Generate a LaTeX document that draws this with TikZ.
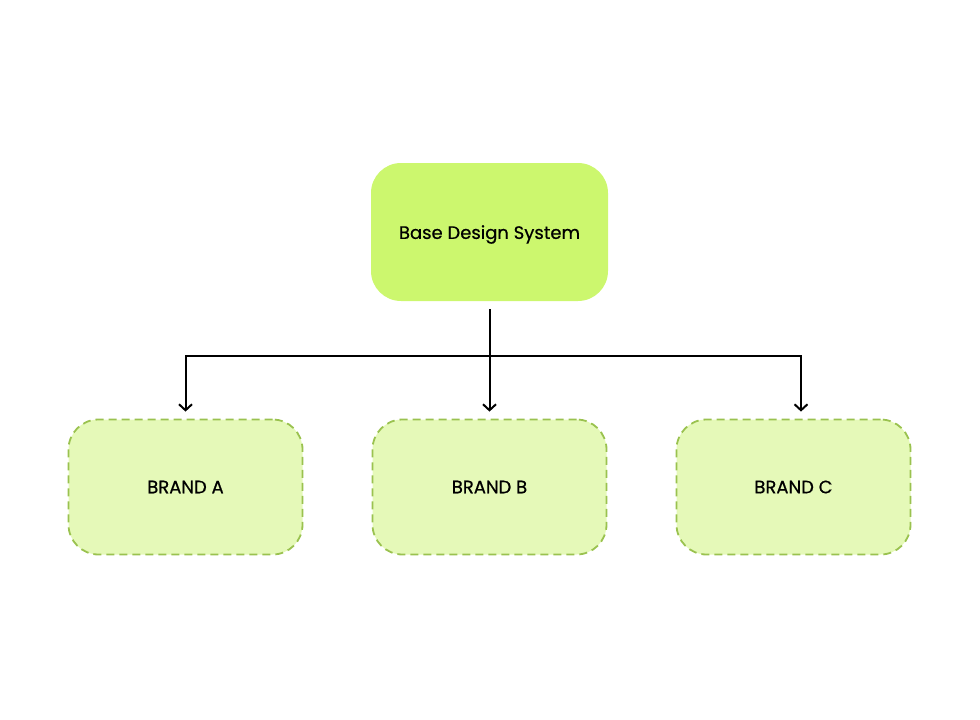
\documentclass[tikz,border=0pt]{standalone}
\usepackage{fontspec}
\setmainfont{Poppins}
\usetikzlibrary{arrows.meta}
\definecolor{topfill}{HTML}{CCF76E}
\definecolor{brandfill}{HTML}{E5F9B8}
\definecolor{brandline}{HTML}{9AC24F}
\begin{document}
\begin{tikzpicture}[x=1pt,y=-1pt,
  basebox/.style={draw=none,fill=topfill,rounded corners=30pt,minimum width=237pt,minimum height=138pt,inner sep=0pt,font=\fontsize{18}{20}\selectfont},
  brandbox/.style={draw=brandline,fill=brandfill,line width=1.8pt,dash pattern=on 8pt off 5pt,rounded corners=30pt,minimum width=234pt,minimum height=135pt,inner sep=0pt,font=\fontsize{18}{20}\selectfont},
  conn/.style={line width=2pt,draw=black},
  arr/.style={conn,-{Straight Barb[length=6pt,width=13pt,line width=2pt]}}]
\useasboundingbox (0,0) rectangle (980,720);
\node[basebox] (base) at (489.5,232) {};
\node[font=\fontsize{18}{20}\selectfont,inner sep=0pt] (basetext) at (489.5,234.5) {\addfontfeature{FakeBold=0.6}Base Design System};
\node[brandbox] (a) at (185.5,487) {\addfontfeature{FakeBold=0.6}BRAND A};
\node[brandbox] (b) at (489.5,487) {\addfontfeature{FakeBold=0.6}BRAND B};
\node[brandbox] (c) at (793.5,487) {\addfontfeature{FakeBold=0.6}BRAND C};
\coordinate (split) at (489.5,356);
\draw[conn] ([yshift=-8pt]base.south) -- (split);
\draw[arr] (split) -| ([yshift=7pt]a.north);
\draw[arr] (split) -- ([yshift=7pt]b.north);
\draw[arr] (split) -| ([xshift=7.5pt,yshift=7pt]c.north);
\end{tikzpicture}
\end{document}
